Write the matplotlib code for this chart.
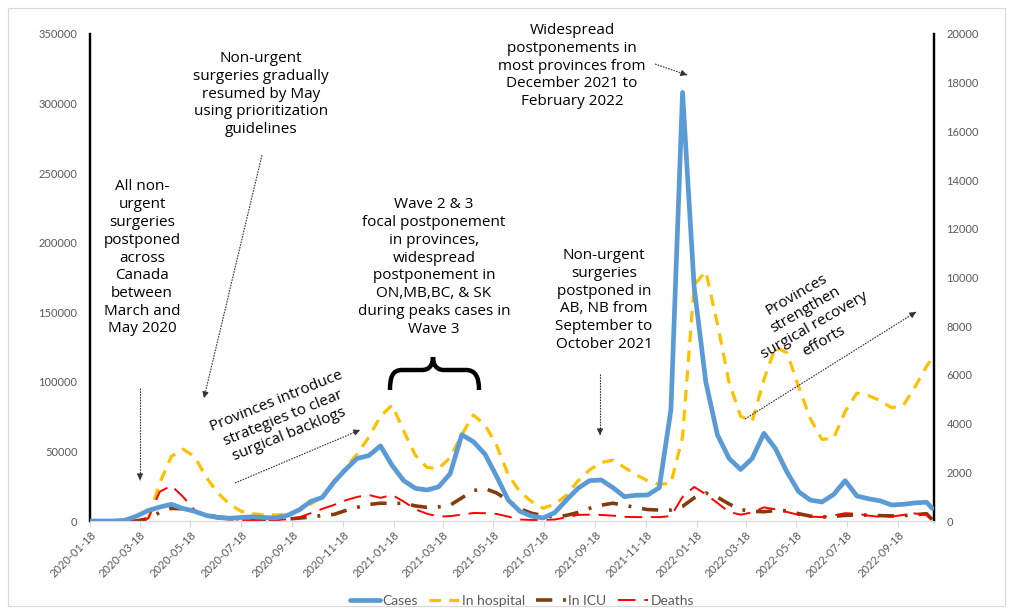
import numpy as np
import pandas as pd
import matplotlib
matplotlib.use('Agg')
import matplotlib.pyplot as plt
import matplotlib.dates as mdates
from matplotlib.path import Path
from matplotlib.patches import PathPatch, Rectangle

# biweekly reporting dates plus the last report
dates = list(pd.date_range('2020-01-18', periods=73, freq='14D')) + [pd.Timestamp('2022-10-29')]

cases = [0, 0, 0, 500, 3500, 7500, 10000, 12000, 9000, 7000,
         4000, 2500, 2000, 2500, 3000, 2500, 2200, 4000, 8000, 14000,
         17000, 28000, 37000, 45000, 47000, 54000, 40000, 29000, 23500, 22300,
         24500, 34000, 62000, 57000, 48000, 32000, 15000, 7000, 3500, 2200,
         6000, 15000, 23500, 29000, 29500, 24000, 17500, 18500, 18700, 24000,
         80000, 308000, 168000, 100000, 62000, 45000, 37000, 45000, 63000, 52000,
         35000, 21000, 15000, 13700, 19000, 29000, 18000, 16000, 14500, 11500,
         12000, 13000, 13500, 9000]

in_hospital = [0, 0, 0, 0, 0, 50, 1560, 2650, 2950, 2650,
               1800, 1150, 700, 400, 300, 250, 250, 260, 420, 700,
               1000, 1550, 2200, 2750, 3450, 4300, 4760, 3700, 2700, 2200,
               2150, 2600, 3550, 4350, 3950, 3100, 1900, 1200, 800, 520,
               700, 1050, 1650, 2100, 2400, 2500, 2200, 1900, 1650, 1500,
               1550, 3450, 9700, 10250, 8100, 5700, 4300, 4100, 5800, 7150,
               6900, 5500, 4200, 3350, 3400, 4500, 5250, 5150, 4950, 4650,
               4750, 5500, 6350, 6700]

in_icu = [0, 0, 0, 0, 0, 100, 350, 520, 500, 380,
          250, 170, 120, 80, 50, 50, 60, 80, 120, 160,
          230, 270, 430, 560, 680, 730, 720, 730, 620, 560,
          580, 650, 950, 1250, 1330, 1150, 850, 500, 320, 220,
          170, 230, 350, 520, 650, 730, 650, 550, 470, 450,
          450, 600, 950, 1150, 980, 700, 470, 400, 380, 430,
          420, 300, 200, 160, 190, 230, 250, 240, 220, 210,
          220, 260, 300, 50]

deaths = [0, 0, 0, 0, 0, 100, 1200, 1450, 1000, 450,
          220, 100, 60, 40, 30, 30, 40, 70, 150, 320,
          500, 660, 850, 990, 1070, 950, 1070, 800, 480, 300,
          180, 200, 260, 330, 320, 290, 180, 60, 40, 40,
          60, 150, 250, 260, 250, 220, 170, 160, 160, 160,
          200, 990, 1400, 1100, 740, 370, 260, 350, 560, 480,
          370, 250, 180, 160, 230, 320, 300, 220, 170, 180,
          250, 310, 250, 0]

tick_dates = pd.date_range('2020-01-18', '2022-09-18', freq=pd.DateOffset(months=2))

W, H = 1013, 614
fig = plt.figure(figsize=(W/100, H/100), dpi=100)

# figure pixel coords (y from top) -> figure fraction
def fxy(px, py):
    return (px/W, 1 - py/H)

fig.add_artist(Rectangle((8/W, 8/H), 997/W, 598/H, transform=fig.transFigure,
                         fill=False, edgecolor='#D9D9D9', linewidth=0.8))

ax = fig.add_axes([90/W, 1-521/H, 844/W, 487/H])
ax2 = ax.twinx()

gray = '#595959'
l1, = ax.plot(dates, cases, color='#5B9BD5', lw=3.4, solid_capstyle='round', solid_joinstyle='round',
              label='Cases', zorder=3)
l2, = ax2.plot(dates, in_hospital, color='#FFC000', lw=2.3, dashes=(3.6, 2.6), label='In hospital')
l3, = ax2.plot(dates, in_icu, color='#843C0C', lw=2.6, dashes=(4.5, 3, 0.8, 3), label='In ICU')
l4, = ax2.plot(dates, deaths, color='#FF0000', lw=1.4, dashes=(9, 4.5), label='Deaths')
ax.set_zorder(ax2.get_zorder() + 1)
ax.patch.set_visible(False)

ax.set_ylim(0, 350000)
ax2.set_ylim(0, 20000)
ax.set_yticks(np.arange(0, 350001, 50000))
ax2.set_yticks(np.arange(0, 20001, 2000))
ax.set_xlim(pd.Timestamp('2020-01-18'), pd.Timestamp('2022-10-31'))
ax.set_xticks(tick_dates)
ax.xaxis.set_major_formatter(mdates.DateFormatter('%Y-%m-%d'))
for lab in ax.get_xticklabels():
    lab.set_rotation(45)
    lab.set_ha('right')
    lab.set_rotation_mode('anchor')

for a in (ax, ax2):
    a.spines['top'].set_visible(False)
    a.spines['bottom'].set_color('#D9D9D9')
    a.spines['left'].set_linewidth(1.6)
    a.spines['right'].set_linewidth(1.6)
    a.tick_params(axis='y', length=0, labelsize=8, labelcolor=gray, pad=9)
    for lab in a.get_yticklabels():
        lab.set_family('Lato')
ax.tick_params(axis='x', length=4, color='#D9D9D9', labelsize=8, labelcolor=gray, pad=2)
for lab in ax.get_xticklabels():
    lab.set_family('Lato')

fig.legend(handles=[l1, l2, l3, l4], loc='center', bbox_to_anchor=(0.515, 0.021), ncol=4,
           frameon=False, handlelength=2.2, columnspacing=0.8, handletextpad=0.15,
           prop={'family': 'Lato', 'size': 10}, labelcolor=gray)

# annotations
tf = dict(transform=fig.transFigure, ha='center', va='center', family='Open Sans',
          fontsize=11, color='black', linespacing=1.25)
fig.text(*fxy(142, 258), 'All non-\nurgent\nsurgeries\npostponed\nacross\nCanada\nbetween\nMarch and\nMay 2020', **tf)
fig.text(*fxy(261, 94), 'Non-urgent\nsurgeries gradually\nresumed by May\nusing prioritization\nguidelines', **tf)
fig.text(*fxy(434, 267), 'Wave 2 & 3\nfocal postponement\nin provinces,\nwidespread\npostponement in\nON,MB,BC, & SK\nduring peaks cases in\nWave 3', **tf)
fig.text(*fxy(604, 300), 'Non-urgent\nsurgeries\npostponed in\nAB, NB from\nSeptember to\nOctober 2021', **tf)
fig.text(*fxy(572, 66), 'Widespread\npostponements in\nmost provinces from\nDecember 2021 to\nFebruary 2022', **tf)
fig.text(*fxy(283, 418), 'Provinces introduce\nstrategies to clear\nsurgical backlogs', rotation=22, **tf)
fig.text(*fxy(810, 318), 'Provinces\nstrengthen\nsurgical recovery\nefforts', rotation=30, **tf)

arrows = [((140, 388), (140, 480)), ((262, 155), (204, 398)), ((655, 64), (687, 75)),
          ((600, 374), (600, 435)), ((235, 483), (360, 430)), ((745, 419), (916, 312))]
for start, end in arrows:
    fig.add_artist(plt.Line2D([start[0]/W, end[0]/W], [1-start[1]/H, 1-end[1]/H],
                              transform=fig.transFigure, color='#333333', lw=0.8, ls=(0, (1.5, 1))))
    ax.annotate('', xy=fxy(*end), xycoords='figure fraction',
                xytext=fxy(end[0] - (end[0]-start[0])*0.02, end[1] - (end[1]-start[1])*0.02),
                textcoords='figure fraction',
                arrowprops=dict(arrowstyle='-|>,head_length=0.35,head_width=0.18', color='#333333', lw=0.8))

# curly brace above the wave 2 & 3 peaks
brace = [(390, 390), (390, 378), (392, 370), (402, 370), (422, 370), (430, 370), (433, 364), (433, 357),
         (433, 364), (436, 370), (444, 370), (466, 370), (476, 370), (479, 378), (479, 390)]
codes = [Path.MOVETO, Path.CURVE4, Path.CURVE4, Path.CURVE4, Path.LINETO, Path.CURVE4, Path.CURVE4, Path.CURVE4,
         Path.CURVE4, Path.CURVE4, Path.CURVE4, Path.LINETO, Path.CURVE4, Path.CURVE4, Path.CURVE4]
fig.add_artist(PathPatch(Path([fxy(*p) for p in brace], codes), transform=fig.transFigure,
                         fill=False, lw=3.2, edgecolor='black', capstyle='butt'))

fig.savefig('out.png', dpi=100)
